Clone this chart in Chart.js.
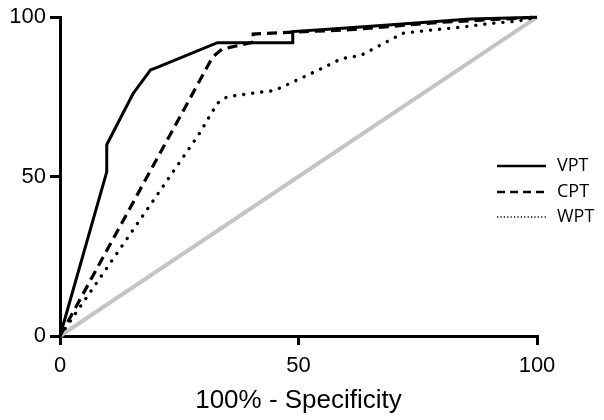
<!DOCTYPE html>
<html>
<head>
<meta charset="utf-8">
<script src="https://cdn.jsdelivr.net/npm/chart.js@4/dist/chart.umd.min.js"></script>
<style>
  html, body { margin: 0; padding: 0; background: #fff; }
  #wrap { width: 604px; height: 420px; position: relative; }
</style>
</head>
<body>
<div id="wrap"><canvas id="roc"></canvas></div>
<script>
// ROC curves (x = 100% - specificity, y = sensitivity)
const vptX = [0, 9.8, 9.8, 15.3, 19, 20, 33, 48.8, 48.8, 60, 71, 86, 100];
const vptY = [0, 51.5, 60, 76, 83.5, 84, 92, 92, 95.5, 96.6, 97.8, 99.4, 100];

const cptX = [0, 32, 34, 37.7, 40.5, 40.5, 48.8, 60, 70, 80, 90, 100];
const cptY = [0, 87.5, 90, 91.2, 92.2, 94.7, 95.3, 96, 97.2, 98.4, 99.2, 100];

const wptX = [0, 29, 31, 33, 35, 41, 45, 50, 54, 59, 63, 65, 70, 72, 78, 85, 90, 96, 100];
const wptY = [0, 63, 68, 73, 75, 76.3, 77, 80.5, 83.3, 87, 88, 89.5, 93.5, 95, 96, 97, 98, 98.8, 100];

const refX = [0, 100];
const refY = [0, 100];

const xTicks = [0, 50, 100];
const yTicks = [0, 50, 100];

const seriesNames = ['VPT', 'CPT', 'WPT'];

const pts = (xs, ys) => xs.map((x, i) => ({ x, y: ys[i] }));

// legend sits over the right edge of the plot, so draw it by hand
const sideLegend = {
  id: 'sideLegend',
  afterDraw(chart) {
    const c = chart.ctx;
    const rows = [
      { y: 166, dash: [], width: 2.5 },
      { y: 192, dash: [8, 5], width: 2.5 },
      { y: 217, dash: [1.2, 2.2], width: 1.6 },
    ];
    c.save();
    rows.forEach((r, i) => {
      c.beginPath();
      c.strokeStyle = '#000';
      c.lineWidth = r.width;
      c.setLineDash(r.dash);
      c.moveTo(497, r.y);
      c.lineTo(546, r.y);
      c.stroke();
      c.setLineDash([]);
      c.fillStyle = '#000';
      c.font = '18px "Open Sans", sans-serif';
      c.textBaseline = 'middle';
      c.fillText(seriesNames[i], 557, r.y);
    });
    c.restore();
  }
};

const axisFont = { family: '"Liberation Sans", Arial, sans-serif', size: 22 };

new Chart(document.getElementById('roc'), {
  type: 'scatter',
  data: {
    datasets: [
      {
        label: 'VPT',
        data: pts(vptX, vptY),
        showLine: true,
        borderColor: '#000',
        borderWidth: 3,
        pointRadius: 0,
        borderJoinStyle: 'miter',
      },
      {
        label: 'CPT',
        data: pts(cptX, cptY),
        showLine: true,
        borderColor: '#000',
        borderWidth: 3.2,
        borderDash: [10, 6],
        pointRadius: 0,
      },
      {
        label: 'WPT',
        data: pts(wptX, wptY),
        showLine: true,
        borderColor: '#000',
        borderWidth: 3.4,
        borderDash: [0.1, 9],
        borderCapStyle: 'round',
        pointRadius: 0,
      },
      {
        label: 'ref',
        data: pts(refX, refY),
        showLine: true,
        borderColor: '#c4c4c4',
        borderWidth: 4,
        pointRadius: 0,
      },
    ],
  },
  options: {
    responsive: true,
    maintainAspectRatio: false,
    animation: false,
    clip: false,
    layout: { padding: { top: 17, right: 67, bottom: 0, left: 0 } },
    plugins: {
      legend: { display: false },
      tooltip: { enabled: false },
    },
    scales: {
      x: {
        type: 'linear',
        min: 0,
        max: 100,
        afterBuildTicks: s => { s.ticks = xTicks.map(v => ({ value: v })); },
        afterFit: s => { s.height = 84; },
        ticks: { color: '#000', font: axisFont, padding: 8, maxRotation: 0 },
        grid: { drawOnChartArea: false, drawTicks: true, tickLength: 9, color: '#000', lineWidth: 3 },
        border: { display: true, color: '#000', width: 3 },
        title: {
          display: true,
          text: '100% - Specificity',
          color: '#000',
          font: { family: '"Liberation Sans", Arial, sans-serif', size: 26 },
          padding: { top: 0, bottom: 4 },
        },
      },
      y: {
        type: 'linear',
        min: 0,
        max: 100,
        afterBuildTicks: s => { s.ticks = yTicks.map(v => ({ value: v })); },
        afterFit: s => { s.width = 60; },
        ticks: { color: '#000', font: axisFont, padding: 4 },
        grid: { drawOnChartArea: false, drawTicks: true, tickLength: 10, color: '#000', lineWidth: 3 },
        border: { display: true, color: '#000', width: 3 },
      },
    },
  },
  plugins: [sideLegend],
});
</script>
</body>
</html>
